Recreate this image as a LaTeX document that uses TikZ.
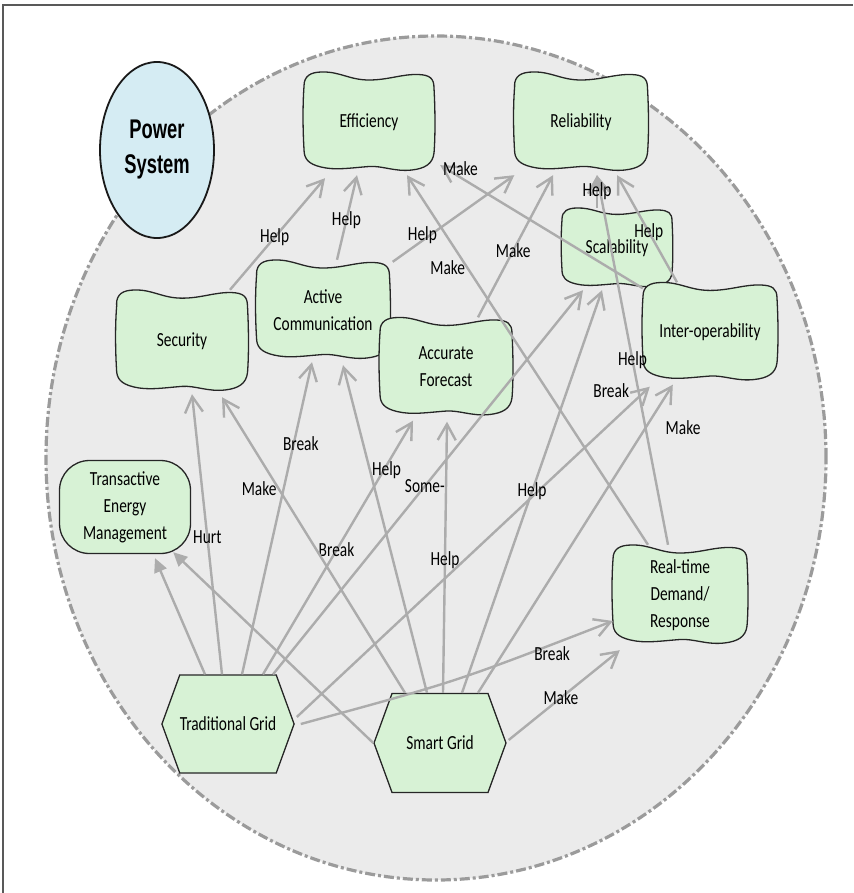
\documentclass[tikz,border=0pt]{standalone}
\usepackage{fontspec}
\newfontfamily\labelfont[FakeStretch=0.77]{Carlito}
\newfontfamily\titlefont[FakeStretch=0.68]{Liberation Sans}
\usetikzlibrary{arrows.meta,calc,shapes.geometric,shapes.symbols}

\definecolor{goalgreen}{RGB}{215,242,213}
\definecolor{sysblue}{RGB}{213,236,243}
\definecolor{areagray}{RGB}{235,235,235}
\definecolor{linkgray}{RGB}{172,172,172}

\tikzset{
  sgline/.style={draw=black!85, line width=1.3pt, fill=goalgreen},
  goaltext/.style={font=\labelfont\fontsize{20}{27}\selectfont, align=center, inner sep=0pt},
  gridhex/.style={shape=signal, signal to=east and west, signal pointer angle=140,
    sgline, goaltext, minimum width=130pt, minimum height=98pt},
  link/.style={draw=linkgray, line width=2.4pt, -{Straight Barb[length=16pt,width=18pt]}},
  means/.style={draw=linkgray, line width=2.4pt, -{Triangle[length=14pt,width=13pt]}},
  lbl/.style={font=\labelfont\fontsize{20}{24}\selectfont, inner sep=1pt}
}

% wavy softgoal: name, centre, half width, half height, text
\newcommand{\softgoal}[5]{%
  \draw[sgline, shift={(#2)}, xscale=#3, yscale=#4]
    (-1,-0.72) .. controls (-1,-0.92) and (-0.9,-1) .. (-0.72,-1)
    .. controls (-0.45,-1.01) and (-0.3,-0.84) .. (0,-0.84)
    .. controls (0.3,-0.84) and (0.5,-0.96) .. (0.76,-0.95)
    .. controls (0.93,-0.94) and (1,-0.88) .. (1,-0.68)
    .. controls (1.02,-0.2) and (1.02,0.3) .. (1,0.62)
    .. controls (0.98,0.84) and (0.86,0.93) .. (0.66,0.96)
    .. controls (0.4,1.0) and (0.2,0.87) .. (0,0.89)
    .. controls (-0.3,0.92) and (-0.52,0.97) .. (-0.74,0.9)
    .. controls (-0.93,0.84) and (-1,0.74) .. (-1,0.55)
    .. controls (-1.02,0.1) and (-1.02,-0.35) .. cycle;
  \node[goaltext, minimum width=#3*2pt, minimum height=#4*2pt] (#1) at (#2) {#5};}

\begin{document}
\begin{tikzpicture}[x=1pt,y=-1pt]
  \useasboundingbox (0,0) rectangle (853,893);

  % system boundary
  \fill[areagray] (436,458) ellipse [x radius=390pt, y radius=422pt];
  \draw[linkgray!90!black, line width=3.2pt, dash pattern=on 10pt off 3pt on 3pt off 3pt]
    (436,458) ellipse [x radius=390pt, y radius=422pt];
  \draw[black!65, line width=1.5pt] (3,893) -- (3,5) -- (853,5);

  \node[draw=black!90, line width=1.8pt, fill=sysblue, ellipse, minimum width=114pt,
    minimum height=176pt, align=center, inner sep=0pt,
    font=\titlefont\bfseries\fontsize{27}{35}\selectfont] (ps) at (157,150) {Power\\System};

  % softgoals
  \softgoal{eff}{369,122}{65}{50}{Efficiency}
  \softgoal{rel}{581,122}{66.5}{50}{Reliability}
  \softgoal{sec}{182,341}{65.5}{51}{Security}
  \softgoal{ac}{323,310}{66.5}{50}{Active\\Communication}
  \softgoal{af}{446,367}{66}{49.5}{Accurate\\Forecast}
  \softgoal{scal}{617,248}{55}{40}{Scalability}
  \softgoal{iop}{710,332}{67}{49.5}{Inter-operability}
  \softgoal{rt}{680,595}{67}{50}{Real-time\\Demand/\\Response}

  \node[sgline, goaltext, rounded corners=30pt, minimum width=131pt, minimum height=93pt]
    (tem) at (125,507) {Transactive\\Energy\\Management};

  \node[gridhex] (tg) at (228,724) {Traditional Grid};
  \node[gridhex, minimum width=132pt, minimum height=99pt] (sg) at (440,743) {Smart Grid};

  % decompositions
  \draw[means] ($(tg.north)+(-23,0)$) -- ($(tem.south)+(30,4)$);
  \draw[means] (sg.west) -- ($(tem.south east)+(-18,-2)$);

  % contributions of the traditional grid
  \draw[link] ($(tg.north)+(-6,0)$) -- node[lbl,pos=0.49]{Hurt} ($(sec.south)+(10,2)$);
  \draw[link] ($(tg.north)+(14,0)$) -- node[lbl,pos=0.74,xshift=7pt]{Break} ($(ac.south)+(-11,2)$);
  \draw[link] ($(tg.north)+(35,0)$) -- node[lbl,pos=0.49]{Break} ($(af.south)+(-33,4)$);
  \draw[link] ($(tg.north)+(45,0)$) -- node[lbl,pos=0.49]{Some-} ($(scal.south)+(-34,2)$);
  \draw[link] ($(tg.east)+(2,-7)$) -- node[lbl,pos=0.97,anchor=east,xshift=-8pt,yshift=6pt]{Break}
    ($(iop.south west)+(7,5)$);
  \draw[link] ($(tg.east)+(6,0)$) .. controls ($(tg.east)!0.5!(rt.west)+(3,22)$) ..
    node[lbl,pos=0.85,below]{Break} ($(rt.west)+(0,26)$);

  % contributions of the smart grid
  \draw[link] ($(sg.north)+(-35,0)$) -- node[lbl,pos=0.69,anchor=east]{Make} ($(sec.south)+(40,5)$);
  \draw[link] ($(sg.north)+(-13,0)$) -- node[lbl,pos=0.68,anchor=west]{Help} ($(ac.south)+(20,5)$);
  \draw[link] ($(sg.north)+(3,0)$) -- node[lbl,pos=0.49]{Help} ($(af.south)+(1,5)$);
  \draw[link] ($(sg.north)+(22,0)$) -- node[lbl,pos=0.5]{Help} ($(scal.south)+(-15,2)$);
  \draw[link] ($(sg.north)+(38,0)$) -- node[lbl,pos=0.86,anchor=west,xshift=18pt]{Make}
    ($(iop.south west)+(30,3)$);
  \draw[link] ($(sg.east)+(2,-3)$) -- node[lbl,pos=0.47]{Make} ($(rt.south west)+(7,5)$);

  % softgoal to softgoal
  \draw[link] ($(sec.north)+(48,0)$) -- node[lbl,pos=0.47]{Help} ($(eff.south)+(-44,6)$);
  \draw[link] ($(ac.north)+(14,0)$) -- node[lbl,pos=0.47]{Help} ($(eff.south)+(-12,3)$);
  \draw[link] ($(ac.north east)+(3,2)$) -- node[lbl,pos=0.31,xshift=-8pt]{Help} ($(rel.south west)+(0,3)$);
  \draw[link] ($(af.north)+(32,0)$) -- node[lbl,pos=0.47]{Make} ($(rel.south)+(-28,3)$);
  \draw[link] ($(rt.north)+(-32,0)$) -- node[lbl,pos=0.75,anchor=east]{Make} ($(eff.south)+(38,3)$);
  \draw[link] ($(rt.north)+(-12,0)$) -- node[lbl,pos=0.5]{Help} ($(rel.south)+(16,3)$);
  \draw[link] ($(scal.north)+(-20,0)$) -- node[lbl,pos=0.5]{Help} ($(rel.south)+(16,3)$);
  \draw[link] ($(iop.north)+(-33,0)$) -- node[lbl,pos=0.47]{Help} ($(rel.south)+(36,3)$);
  \draw[link] ($(iop.north west)+(0,6)$) -- node[lbl,pos=0.9,above]{Make} ($(eff.south east)+(6,-7)$);
\end{tikzpicture}
\end{document}
